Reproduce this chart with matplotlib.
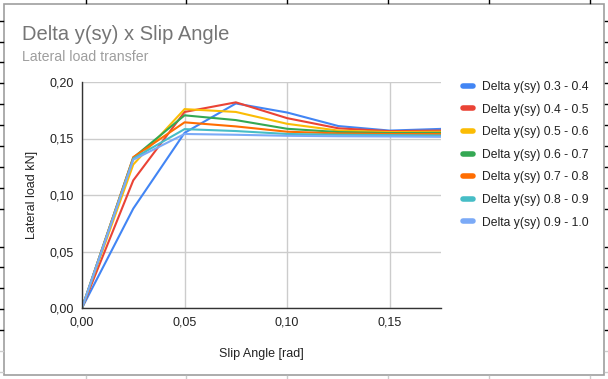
import matplotlib
matplotlib.use('Agg')
import matplotlib.pyplot as plt
from matplotlib.lines import Line2D
from matplotlib.patches import Rectangle
from matplotlib.ticker import FuncFormatter

plt.rcParams['font.family'] = ['Liberation Sans', 'DejaVu Sans']

# Данные
slip_angle = [0.0, 0.025, 0.05, 0.075, 0.1, 0.125, 0.15, 0.175]
series_names = ['Delta y(sy) 0.3 - 0.4', 'Delta y(sy) 0.4 - 0.5', 'Delta y(sy) 0.5 - 0.6',
                'Delta y(sy) 0.6 - 0.7', 'Delta y(sy) 0.7 - 0.8', 'Delta y(sy) 0.8 - 0.9',
                'Delta y(sy) 0.9 - 1.0']
d_03_04 = [0.0, 0.088, 0.155, 0.181, 0.173, 0.161, 0.157, 0.1585]
d_04_05 = [0.0, 0.113, 0.1735, 0.182, 0.168, 0.159, 0.1565, 0.157]
d_05_06 = [0.0, 0.127, 0.176, 0.1735, 0.163, 0.157, 0.1557, 0.156]
d_06_07 = [0.0, 0.133, 0.1705, 0.1663, 0.1586, 0.1557, 0.1548, 0.155]
d_07_08 = [0.0, 0.1335, 0.1643, 0.1607, 0.156, 0.1545, 0.154, 0.154]
d_08_09 = [0.0, 0.1323, 0.1583, 0.1566, 0.154, 0.1533, 0.153, 0.1527]
d_09_10 = [0.0, 0.1312, 0.154, 0.1533, 0.1524, 0.152, 0.1518, 0.1515]
all_series = [d_03_04, d_04_05, d_05_06, d_06_07, d_07_08, d_08_09, d_09_10]

colors = ['#4285F4', '#EA4335', '#FBBC04', '#34A853', '#FF6D01', '#46BDC6', '#7BAAF7']

W, H = 608, 379
fig = plt.figure(figsize=(W / 100, H / 100), dpi=100)


def px(x, y):
    # пиксели -> координаты фигуры
    return x / W, 1 - y / H


# Рамка диаграммы и обрывки сетки таблицы
fig.add_artist(Rectangle(px(3.5, 375), 600.5 / W, 371.5 / H, transform=fig.transFigure,
                         fill=False, edgecolor='#9e9e9e', linewidth=1.2))
rows = [20.7, 41.5, 62.3, 83.3, 104.3, 125, 146, 166.7, 188.3, 209.3, 246.7, 267.3, 288.3, 309.3, 330]
for r in rows:
    fig.add_artist(Line2D([0, 3 / W], [1 - r / H] * 2, transform=fig.transFigure, color='black', lw=1))
    fig.add_artist(Line2D([605 / W, 1], [1 - r / H] * 2, transform=fig.transFigure, color='black', lw=1))
for r in [351, 372]:
    fig.add_artist(Line2D([0, 3 / W], [1 - r / H] * 2, transform=fig.transFigure, color='#cccccc', lw=1))
    fig.add_artist(Line2D([605 / W, 1], [1 - r / H] * 2, transform=fig.transFigure, color='#cccccc', lw=1))
for c in [86, 186, 287, 388, 489, 590]:
    fig.add_artist(Line2D([c / W] * 2, [1 - 3 / H, 1], transform=fig.transFigure, color='black', lw=1))
    fig.add_artist(Line2D([c / W] * 2, [0, 1 - 376 / H], transform=fig.transFigure, color='#cccccc', lw=1))

# Заголовки
fig.text(22 / W, 1 - 39.5 / H, 'Delta y(sy) x Slip Angle', fontsize=14.5, color='#757575', va='baseline')
fig.text(22 / W, 1 - 61 / H, 'Lateral load transfer', fontsize=10.2, color='#9e9e9e', va='baseline')

# Область графика
ax = fig.add_axes([82 / W, 1 - 308 / H, (441 - 82) / W, (308 - 82) / H])
for s, c, name in zip(all_series, colors, series_names):
    ax.plot(slip_angle, s, color=c, lw=1.5, label=name, solid_joinstyle='miter')

ax.set_xlim(0, 0.175)
ax.set_ylim(0, 0.20)
ax.set_xticks([0, 0.05, 0.10, 0.15])
ax.set_yticks([0, 0.05, 0.10, 0.15, 0.20])
fmt = FuncFormatter(lambda v, p: f'{v:.2f}'.replace('.', ','))
ax.xaxis.set_major_formatter(fmt)
ax.yaxis.set_major_formatter(fmt)
ax.tick_params(length=0, labelsize=9, colors='#222222', pad=6)
ax.grid(True, color='#cccccc', lw=1)
ax.set_axisbelow(True)
for side in ['top', 'right']:
    ax.spines[side].set_visible(False)
for side in ['left', 'bottom']:
    ax.spines[side].set_color('#333333')
    ax.spines[side].set_linewidth(1)
    ax.spines[side].set_zorder(5)

ax.set_xlabel('Slip Angle [rad]', fontsize=9, color='#222222', labelpad=14)
ax.set_ylabel('Lateral load kN]', fontsize=9, color='#222222', labelpad=8)

# Легенда
handles = [Line2D([], [], color=c, lw=4, solid_capstyle='round') for c in colors]
fig.legend(handles, series_names, loc='upper left', bbox_to_anchor=px(452, 70),
           frameon=False, fontsize=8.7, handlelength=0.85, handletextpad=0.75,
           labelspacing=0.88, labelcolor='#222222')

fig.savefig('out.png', dpi=100)
